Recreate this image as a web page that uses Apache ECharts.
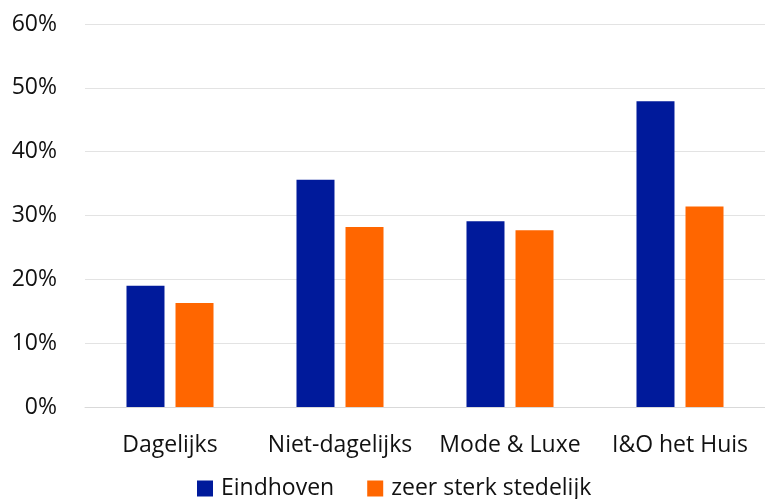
<!DOCTYPE html>
<html>
<head>
<meta charset="utf-8">
<script src="https://cdn.jsdelivr.net/npm/echarts@6/dist/echarts.min.js"></script>
<style>
  html, body { margin: 0; padding: 0; background: #fff; }
  #chart { width: 765px; height: 499px; }
</style>
</head>
<body>
<div id="chart"></div>
<script>
const categories = ['Dagelijks', 'Niet-dagelijks', 'Mode & Luxe', 'I&O het Huis'];
const eindhoven = [19.0, 35.6, 29.1, 47.9];
const zeerSterkStedelijk = [16.3, 28.2, 27.7, 31.4];
const seriesNames = ['Eindhoven', 'zeer sterk stedelijk'];

const font = '"Open Sans", "Noto Sans", sans-serif';
const chart = echarts.init(document.getElementById('chart'));

chart.setOption({
  animation: false,
  textStyle: { fontFamily: font },
  grid: { left: 85, right: -7, top: 24, bottom: 92 },
  legend: {
    data: seriesNames,
    bottom: -6,
    left: 192,
    itemWidth: 16,
    itemHeight: 16,
    itemGap: 33,
    icon: 'rect',
    textStyle: { fontSize: 23, color: '#111', fontFamily: font, padding: [0, 0, 0, 3] }
  },
  xAxis: {
    type: 'category',
    data: categories,
    axisLine: { lineStyle: { color: '#d9d9d9' } },
    axisTick: { show: false },
    axisLabel: { interval: 0, hideOverlap: false, fontSize: 23, color: '#111', margin: 27, fontFamily: font }
  },
  yAxis: {
    type: 'value',
    min: 0,
    max: 60,
    interval: 10,
    axisLine: { show: false },
    axisTick: { show: false },
    splitLine: { lineStyle: { color: '#e3e3e3' } },
    axisLabel: { formatter: '{value}%', fontSize: 23, color: '#111', margin: 28, fontFamily: font }
  },
  series: [
    {
      name: seriesNames[0],
      type: 'bar',
      data: eindhoven,
      barWidth: 38,
      barGap: '29%',
      itemStyle: { color: '#001a9b' }
    },
    {
      name: seriesNames[1],
      type: 'bar',
      data: zeerSterkStedelijk,
      barWidth: 38,
      itemStyle: { color: '#ff6600' }
    }
  ]
});
</script>
</body>
</html>
